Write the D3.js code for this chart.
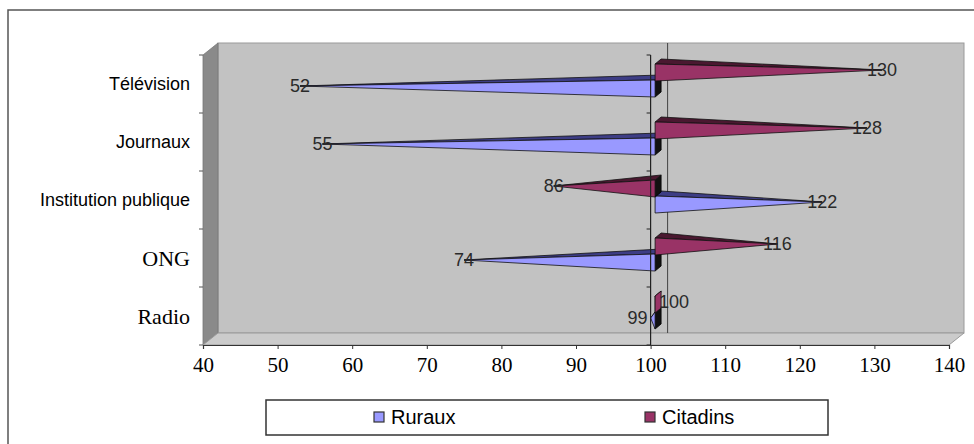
<!DOCTYPE html>
<html>
<head>
<meta charset="utf-8">
<script src="https://cdn.jsdelivr.net/npm/d3@7"></script>
<style>
  html, body { margin: 0; padding: 0; background: #fff; }
  svg { display: block; }
</style>
</head>
<body>
<svg id="chart" width="974" height="444"></svg>
<script>
// Categories, top to bottom
const categories = ["Télévision", "Journaux", "Institution publique", "ONG", "Radio"];
// Series values (100 = baseline)
const ruraux   = [52, 55, 122, 74, 99];
const citadins = [130, 128, 86, 116, 100];
const seriesNames = ["Ruraux", "Citadins"];
const xTicks = [40, 50, 60, 70, 80, 90, 100, 110, 120, 130, 140];
const baseline = 100;

const svg = d3.select("#chart");

// Outer frame
svg.append("rect")
  .attr("x", 8).attr("y", 10).attr("width", 1000).attr("height", 500)
  .attr("fill", "#fff").attr("stroke", "#555").attr("stroke-width", 1.5);

// Scales (front plane)
const x = d3.scaleLinear().domain([40, 140]).range([203, 949]);
const y = d3.scaleBand().domain(categories).range([55, 345]).paddingInner(0).paddingOuter(0);

// 3D depth of the plot box
const DX = 15, DY = 12;
const pLeft = x.range()[0], pRight = x.range()[1];
const pTop = y.range()[0], pBottom = y.range()[1];

// Back wall
svg.append("rect")
  .attr("x", pLeft + DX).attr("y", pTop - DY)
  .attr("width", pRight - pLeft).attr("height", pBottom - pTop)
  .attr("fill", "#c2c2c2").attr("stroke", "#9a9a9a").attr("stroke-width", 1);

// Side wall
svg.append("polygon")
  .attr("points", [[pLeft, pTop], [pLeft + DX, pTop - DY], [pLeft + DX, pBottom - DY], [pLeft, pBottom]].join(" "))
  .attr("fill", "#8a8a8a").attr("stroke", "#777").attr("stroke-width", 0.8);

// Floor
svg.append("polygon")
  .attr("points", [[pLeft, pBottom], [pLeft + DX, pBottom - DY], [pRight + DX, pBottom - DY], [pRight, pBottom]].join(" "))
  .attr("fill", "#cbcbcb").attr("stroke", "#9a9a9a").attr("stroke-width", 1);

// Vertical line on the back wall at the baseline value
svg.append("line")
  .attr("x1", x(baseline) + DX + 2).attr("x2", x(baseline) + DX + 2)
  .attr("y1", pTop - DY).attr("y2", pBottom - DY)
  .attr("stroke", "#444").attr("stroke-width", 1);

// Category ticks on the side wall edge
const boundaries = d3.range(categories.length + 1).map(i => pTop + i * y.bandwidth());
svg.append("g").selectAll("line").data(boundaries).join("line")
  .attr("x1", pLeft - 4).attr("x2", pLeft)
  .attr("y1", d => d).attr("y2", d => d)
  .attr("stroke", "#555").attr("stroke-width", 1);

// Category labels
svg.append("g").selectAll("text").data(categories).join("text")
  .attr("x", 190)
  .attr("y", d => y(d) + y.bandwidth() / 2)
  .attr("text-anchor", "end")
  .attr("dominant-baseline", "central")
  .attr("font-family", (d, i) => i >= 3 ? "'Liberation Serif', 'Times New Roman', serif" : "'Liberation Sans', Arial, sans-serif")
  .attr("font-size", (d, i) => i >= 3 ? 22 : 18)
  .attr("fill", "#000")
  .text(d => d);

// Bars: pyramids pointing from the baseline to the value
const BAR_H = 17;           // base height
const BDX = 6, BDY = 5;     // bar depth offset
const MIDX = DX / 2, MIDY = DY / 2;  // bars sit in the middle of the depth

const colors = {
  Ruraux:   { face: "#9999ff", topFace: "#3d3d85" },
  Citadins: { face: "#993366", topFace: "#4a1830" }
};

// Ruraux first so Citadins front faces sit over them
const bars = [];
categories.forEach((c, i) => {
  const yc = y(c) + y.bandwidth() / 2 - MIDY;
  bars.push({ cat: c, series: "Ruraux", value: ruraux[i], yc: yc + 8 });
});
categories.forEach((c, i) => {
  const yc = y(c) + y.bandwidth() / 2 - MIDY;
  bars.push({ cat: c, series: "Citadins", value: citadins[i], yc: yc - 8 });
});

const gBars = svg.append("g");
bars.forEach(b => {
  const xb = x(baseline) + MIDX;      // base centre
  const xt = x(b.value) + MIDX;       // tip
  const yc = b.yc;
  const col = colors[b.series];
  const fTop = [xb - BDX / 2, yc - BAR_H / 2 + BDY / 2];
  const fBot = [xb - BDX / 2, yc + BAR_H / 2 + BDY / 2];
  const bTop = [xb + BDX / 2, yc - BAR_H / 2 - BDY / 2];
  const bBot = [xb + BDX / 2, yc + BAR_H / 2 - BDY / 2];
  const tip = [xt, yc];
  const g = gBars.append("g");
  // Base face, visible when the bar points left
  if (b.value < baseline) {
    g.append("polygon")
      .attr("points", [fTop, bTop, bBot, fBot].join(" "))
      .attr("fill", "#111").attr("stroke", "#000").attr("stroke-width", 0.8);
  }
  // Top face
  g.append("polygon")
    .attr("points", [fTop, bTop, tip].join(" "))
    .attr("fill", col.topFace).attr("stroke", "#111").attr("stroke-width", 0.8)
    .attr("stroke-linejoin", "round");
  // Front face
  g.append("polygon")
    .attr("points", [fTop, fBot, tip].join(" "))
    .attr("fill", col.face).attr("stroke", "#111").attr("stroke-width", 0.8)
    .attr("stroke-linejoin", "round");
  if (b.value === baseline) {
    g.append("polygon")
      .attr("points", [fTop, bTop, bBot, fBot].join(" "))
      .attr("fill", col.face).attr("stroke", "#111").attr("stroke-width", 0.8);
  }
});

// Category axis at the baseline value
svg.append("line")
  .attr("x1", x(baseline)).attr("x2", x(baseline))
  .attr("y1", pTop).attr("y2", pBottom)
  .attr("stroke", "#222").attr("stroke-width", 1.2);
svg.append("g").selectAll("line").data(boundaries).join("line")
  .attr("x1", x(baseline) - 4).attr("x2", x(baseline))
  .attr("y1", d => d).attr("y2", d => d)
  .attr("stroke", "#222").attr("stroke-width", 1);

// Value labels
svg.append("g").selectAll("text").data(bars).join("text")
  .attr("x", d => {
    const xt = x(d.value) + MIDX;
    const len = Math.abs(x(d.value) - x(baseline));
    if (len < 20) return xt + (d.value >= baseline ? 16 : -13);
    return xt;
  })
  .attr("y", d => d.yc)
  .attr("text-anchor", "middle")
  .attr("dominant-baseline", "central")
  .attr("font-family", "'Liberation Sans', Arial, sans-serif")
  .attr("font-size", 18)
  .attr("fill", "#2a2a2a")
  .text(d => d.value);

// Value axis
const xAxis = d3.axisBottom(x).tickValues(xTicks).tickFormat(d3.format("d"))
  .tickSize(4).tickPadding(8);
const gx = svg.append("g").attr("transform", `translate(0,${pBottom})`).call(xAxis);
gx.select(".domain").attr("stroke", "#333").attr("stroke-width", 1.2);
gx.selectAll(".tick line").attr("stroke", "#333");
gx.selectAll(".tick text")
  .attr("font-family", "'Liberation Serif', 'Times New Roman', serif")
  .attr("font-size", 21)
  .attr("fill", "#000");

// Legend
const lg = svg.append("g");
lg.append("rect")
  .attr("x", 266).attr("y", 400).attr("width", 562).attr("height", 35)
  .attr("fill", "#fff").attr("stroke", "#333").attr("stroke-width", 1.5);
const legendX = [374, 645];
seriesNames.forEach((s, i) => {
  lg.append("rect")
    .attr("x", legendX[i]).attr("y", 412).attr("width", 10).attr("height", 10)
    .attr("fill", colors[s].face).attr("stroke", "#333").attr("stroke-width", 1.2);
  lg.append("text")
    .attr("x", legendX[i] + 17).attr("y", 417)
    .attr("dominant-baseline", "central")
    .attr("font-family", "'Liberation Sans', Arial, sans-serif")
    .attr("font-size", 20)
    .attr("fill", "#000")
    .text(s);
});
</script>
</body>
</html>
